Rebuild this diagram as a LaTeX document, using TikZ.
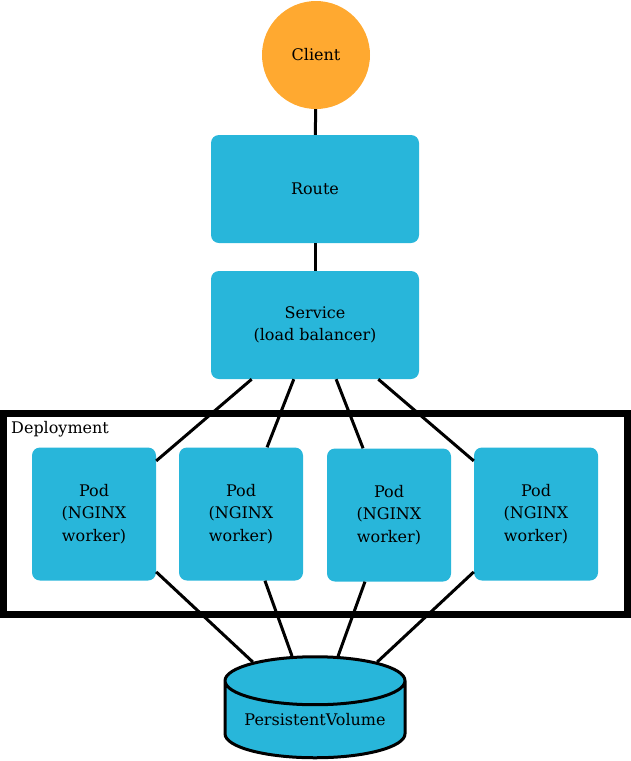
\documentclass[tikz,border=0pt]{standalone}
\usepackage{fontspec}
\setmainfont{DejaVu Serif}
\usetikzlibrary{shapes.geometric}
\definecolor{kblue}{RGB}{40,182,218}
\definecolor{korange}{RGB}{255,169,48}
\tikzset{
  lbl/.style={font=\fontsize{16}{22.5}\selectfont, align=center, inner sep=0pt},
  box/.style={lbl, fill=kblue, rounded corners=8pt},
  svcbox/.style={box, minimum width=208pt, minimum height=108pt},
  podbox/.style={box, minimum width=124pt, minimum height=133pt},
  conn/.style={line width=3pt},
}
\begin{document}
\begin{tikzpicture}[x=1pt,y=-1pt]
\useasboundingbox (0,0) rectangle (631,761);
\draw[line width=7pt] (3.5,413) rectangle (627.5,614);
\node[lbl, anchor=base west] (deplabel) at (11,433) {Deployment};
\node[lbl, circle, fill=korange, minimum size=108pt] (client) at (316,55) {Client};
\node[svcbox] (route) at (315,189) {Route};
\node[svcbox] (service) at (315,325) {Service\\(load balancer)};
\node[podbox] (pod1) at (94,514) {Pod\\(NGINX\\worker)};
\node[podbox] (pod2) at (241,514) {Pod\\(NGINX\\worker)};
\node[podbox] (pod3) at (389,515) {Pod\\(NGINX\\worker)};
\node[podbox] (pod4) at (536,514) {Pod\\(NGINX\\worker)};
\node[lbl, cylinder, shape border rotate=90, draw, line width=3pt, fill=kblue,
      aspect=0.34, minimum height=101pt, minimum width=180pt] (pv) at (315,720) {PersistentVolume};
\draw[conn] (client) -- (route);
\draw[conn] (route) -- (service);
\foreach \p in {pod1,pod2,pod3,pod4} {
  \draw[conn] (service) -- (\p);
  \draw[conn] (\p) -- (pv);
}
\end{tikzpicture}
\end{document}
